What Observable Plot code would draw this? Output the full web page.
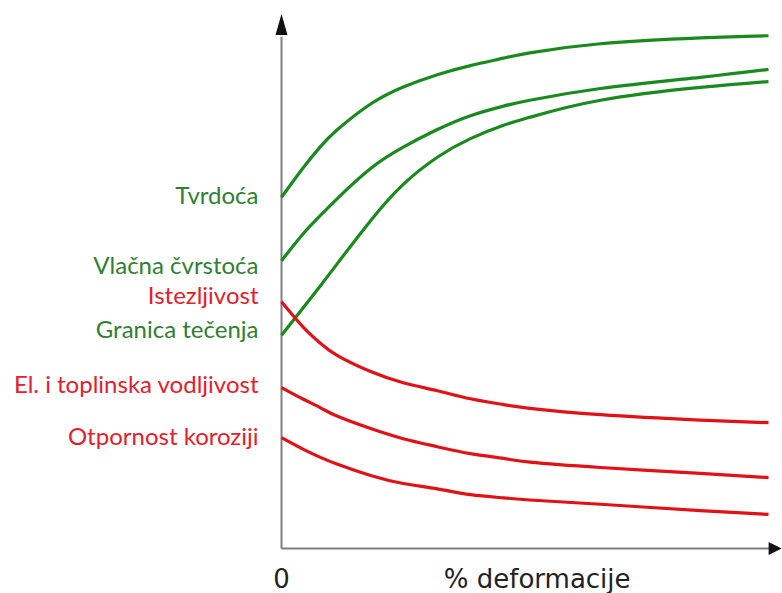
<!DOCTYPE html>
<html>
<head>
<meta charset="utf-8">
<script src="https://cdn.jsdelivr.net/npm/d3@7"></script>
<script src="https://cdn.jsdelivr.net/npm/@observablehq/plot@0.6"></script>
<style>
  html, body { margin: 0; padding: 0; background: #fff; }
  #chart svg { display: block; }
</style>
</head>
<body>
<div id="chart"></div>
<script>
// % deformacije sample positions
const xs = [0, 4.5, 8, 11.5, 18.3, 25, 32, 38.8, 45.6, 51, 65.5, 86, 100];

// series values (relative scale 0–100)
const tvrdoca      = [65.9, 71.5, 75.4, 78.6, 83.4, 86.6, 88.9, 90.6, 92.0, 93.0, 94.7, 95.8, 96.2];
const vlacna       = [54.0, 59.1, 62.5, 65.7, 71.3, 75.3, 78.6, 81.2, 83.0, 84.1, 86.3, 88.4, 89.9];
const granica      = [40.0, 45.2, 49.3, 53.5, 61.5, 68.3, 73.4, 76.9, 79.4, 80.9, 84.1, 86.5, 87.6];
const istezljivost = [46.3, 41.5, 38.5, 36.2, 33.2, 31.1, 29.6, 28.1, 27.0, 26.3, 25.1, 24.1, 23.6];
const vodljivost   = [30.2, 28.0, 26.4, 24.8, 22.5, 20.6, 19.1, 17.8, 16.9, 16.2, 15.2, 14.1, 13.3];
const korozija     = [20.8, 18.6, 17.1, 15.8, 13.7, 12.2, 11.2, 10.1,  9.5,  9.1,  8.3,  7.1,  6.4];

const seriesNames  = ["Tvrdoća", "Vlačna čvrstoća", "Granica tečenja", "Istezljivost", "El. i toplinska vodljivost", "Otpornost koroziji"];
const seriesValues = [tvrdoca, vlacna, granica, istezljivost, vodljivost, korozija];
const seriesGroup  = ["up", "up", "up", "down", "down", "down"];

// label vertical positions (same scale)
const labelNames = ["Tvrdoća", "Vlačna čvrstoća", "Istezljivost", "Granica tečenja", "El. i toplinska vodljivost", "Otpornost koroziji"];
const labelY     = [66.0, 52.9, 47.3, 40.9, 30.6, 20.8];
const labelGroup = ["up", "up", "down", "up", "down", "down"];

const xLabel = "% deformacije";
const xZero = "0";

const greenLine = "#1a8a1f", redLine = "#e01217";
const greenText = "#2f7f34", redText = "#e3202c";

const rows = [];
seriesNames.forEach((name, i) => {
  xs.forEach((x, j) => rows.push({series: name, group: seriesGroup[i], x, y: seriesValues[i][j]}));
});
const labels = labelNames.map((t, i) => ({t, y: labelY[i], group: labelGroup[i]}));

const upArrow = {draw(ctx) { ctx.moveTo(0, 0); ctx.lineTo(6, 21); ctx.lineTo(-6, 21); ctx.closePath(); }};
const rightArrow = {draw(ctx) { ctx.moveTo(0, 0); ctx.lineTo(-13, -6.5); ctx.lineTo(-13, 6.5); ctx.closePath(); }};

const chart = Plot.plot({
  width: 782,
  height: 593,
  marginLeft: 281,
  marginRight: 14,
  marginTop: 15,
  marginBottom: 45,
  x: {domain: [0, 100], axis: null},
  y: {domain: [0, 100], axis: null},
  style: {background: "#fff", overflow: "visible"},
  marks: [
    // axes
    Plot.link([{x1: 0, y1: 0, x2: 0, y2: 96}], {x1: "x1", y1: "y1", x2: "x2", y2: "y2", stroke: "#808080", strokeWidth: 2}),
    Plot.link([{x1: 0, y1: 0, x2: 100.5, y2: 0}], {x1: "x1", y1: "y1", x2: "x2", y2: "y2", stroke: "#808080", strokeWidth: 2}),
    Plot.dot([{x: 0, y: 100.3}], {x: "x", y: "y", symbol: upArrow, fill: "#111", stroke: "none"}),
    Plot.dot([{x: 102.7, y: 0}], {x: "x", y: "y", symbol: rightArrow, fill: "#111", stroke: "none"}),
    // curves
    Plot.line(rows, {x: "x", y: "y", z: "series", curve: "natural",
      stroke: d => d.group === "up" ? greenLine : redLine, strokeWidth: 3.2, strokeLinecap: "butt"}),
    // labels
    Plot.text(labels, {x: 0, y: "y", text: "t", dx: -23, textAnchor: "end",
      fill: d => d.group === "up" ? greenText : redText,
      fontSize: 24, fontFamily: "Lato, 'Open Sans', sans-serif"}),
    Plot.text([xZero], {x: 0, y: 0, text: d => d, dy: 31, fontSize: 26,
      fontFamily: "'DejaVu Sans', Arial, sans-serif", fill: "#222"}),
    Plot.text([xLabel], {x: 52.5, y: 0, text: d => d, dy: 31, fontSize: 26,
      fontFamily: "'DejaVu Sans', Arial, sans-serif", fill: "#222"})
  ]
});
document.getElementById("chart").appendChild(chart);
</script>
</body>
</html>
